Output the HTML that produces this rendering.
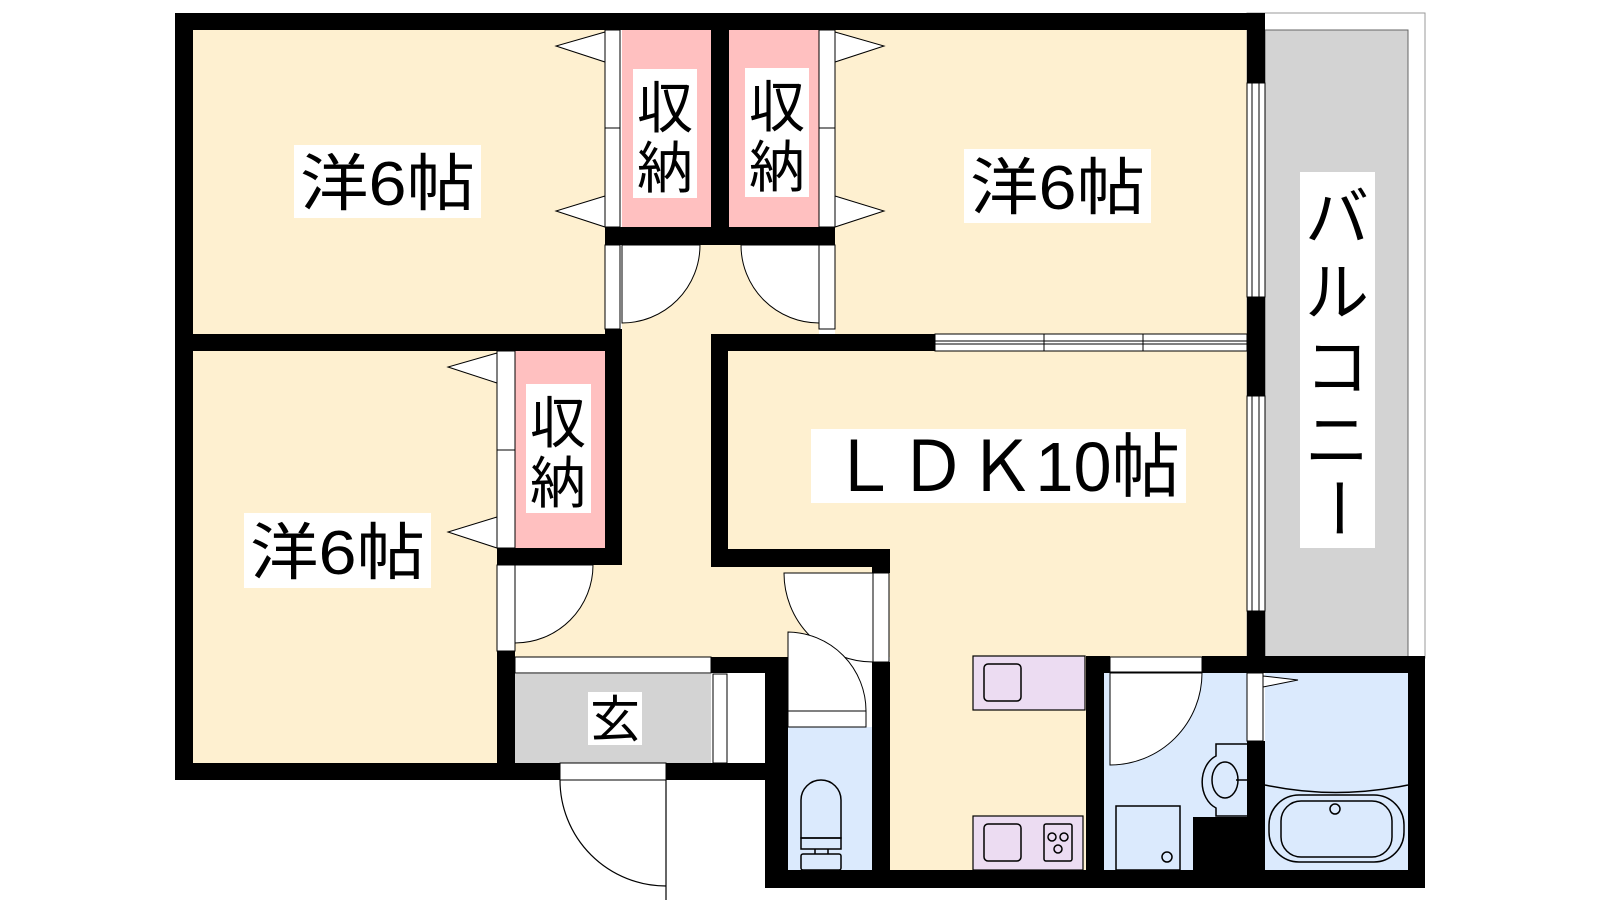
<!DOCTYPE html>
<html><head><meta charset="utf-8"><style>
html,body{margin:0;padding:0;background:#fff;}
svg{display:block;}
text{font-family:"Liberation Sans","Noto Sans CJK JP",sans-serif;fill:#000;}
</style></head><body>
<svg width="1600" height="900" viewBox="0 0 1600 900" xmlns="http://www.w3.org/2000/svg">
<!-- floors -->
<g fill="#fef0d0">
<rect x="193" y="30" width="412" height="304"/>
<rect x="193" y="351" width="304" height="412"/>
<rect x="835" y="30" width="412" height="304"/>
<rect x="622" y="245" width="197" height="90"/>
<rect x="622" y="330" width="89" height="240"/>
<rect x="515" y="565" width="358" height="92"/>
<rect x="728" y="351" width="519" height="306"/>
<rect x="890" y="640" width="196" height="230"/>
</g>
<!-- balcony -->
<rect x="1247" y="13" width="178" height="645" fill="#fff" stroke="#999" stroke-width="1"/>
<rect x="1265" y="30" width="143" height="627" fill="#d3d3d3" stroke="#666" stroke-width="1"/>
<!-- closets -->
<g fill="#ffc0c0">
<rect x="622" y="30" width="89" height="197"/>
<rect x="729" y="30" width="90" height="197"/>
<rect x="515" y="351" width="90" height="197"/>
</g>
<!-- genkan -->
<rect x="515" y="674" width="196" height="89" fill="#d3d3d3"/>
<rect x="515" y="657" width="196" height="16" fill="#fff" stroke="#000" stroke-width="1"/>
<rect x="713" y="674" width="14" height="89" fill="#fff" stroke="#000" stroke-width="1"/>
<!-- blue rooms -->
<g fill="#dbeafd">
<rect x="788" y="727" width="84" height="146"/>
<rect x="1104" y="673" width="143" height="197"/>
<rect x="1265" y="673" width="143" height="197"/>
</g>
<!-- walls -->
<g fill="#000">
<rect x="175" y="13" width="1090" height="17"/>
<rect x="175" y="13" width="18" height="767"/>
<rect x="175" y="763" width="385" height="17"/>
<rect x="666" y="763" width="117" height="17"/>
<rect x="175" y="334" width="447" height="17"/>
<rect x="605" y="227" width="230" height="18"/>
<rect x="711" y="30" width="18" height="197"/>
<rect x="605" y="329" width="17" height="236"/>
<rect x="497" y="548" width="125" height="17"/>
<rect x="497" y="651" width="18" height="129"/>
<rect x="711" y="334" width="224" height="17"/>
<rect x="711" y="334" width="17" height="233"/>
<rect x="711" y="549" width="179" height="18"/>
<rect x="872" y="549" width="18" height="24"/>
<rect x="711" y="657" width="72" height="16"/>
<rect x="765" y="657" width="23" height="231"/>
<rect x="872" y="662" width="18" height="226"/>
<rect x="765" y="870" width="660" height="18"/>
<rect x="1086" y="656" width="18" height="232"/>
<rect x="1104" y="656" width="6" height="17"/>
<rect x="1202" y="656" width="223" height="17"/>
<rect x="1247" y="13" width="18" height="70"/>
<rect x="1247" y="297" width="18" height="99"/>
<rect x="1247" y="611" width="18" height="62"/>
<rect x="1247" y="741" width="18" height="147"/>
<rect x="1408" y="656" width="17" height="232"/>
<rect x="1193" y="817" width="54" height="55"/>
</g>
<!-- door strips -->
<g fill="#fff" stroke="#000" stroke-width="1">
<rect x="605" y="30" width="15" height="98"/><rect x="605" y="128" width="15" height="99"/>
<rect x="819" y="30" width="16" height="98"/><rect x="819" y="128" width="16" height="99"/>
<rect x="497" y="351" width="18" height="99"/><rect x="497" y="450" width="18" height="98"/>
<rect x="605" y="245" width="15" height="84"/>
<rect x="819" y="245" width="16" height="84"/>
<rect x="497" y="565" width="18" height="86"/>
<rect x="873" y="573" width="16" height="89"/>
<rect x="788" y="711" width="78" height="16"/>
<rect x="560" y="763" width="106" height="17"/>
<rect x="1110" y="657" width="92" height="15"/>
<rect x="1247" y="673" width="16" height="68"/>
<!-- triangles -->
<polygon points="605,32 556,46 605,62"/><polygon points="605,196 556,211 605,227"/>
<polygon points="835,32 884,46 835,62"/><polygon points="835,196 884,211 835,227"/>
<polygon points="497,353 448,367 497,383"/><polygon points="497,517 448,532 497,548"/>
<polygon points="1263,676 1298,680 1263,687"/>
<!-- doors -->
<path d="M622,245 L700,245 A78,78 0 0 1 622,323 Z"/>
<path d="M819,245 L741,245 A78,78 0 0 0 819,323 Z"/>
<path d="M515,565 L593,565 A78,78 0 0 1 515,643 Z"/>
<path d="M873,573 L784,573 A89,89 0 0 0 873,662 Z"/>
<path d="M788,711 L788,632 A79,79 0 0 1 866,711 Z"/>
<path d="M1110,673 L1202,673 A92,92 0 0 1 1110,765 Z"/>
</g>
<path d="M560,780 A106,106 0 0 0 666,886 M666,780 L666,900" fill="none" stroke="#000" stroke-width="1.2"/>
<!-- windows -->
<g fill="#fff" stroke="#000" stroke-width="1">
<rect x="935" y="334" width="312" height="17"/>
<line x1="935" y1="341" x2="1247" y2="341"/><line x1="935" y1="344" x2="1247" y2="344"/>
<line x1="1044" y1="334" x2="1044" y2="351"/><line x1="1143" y1="334" x2="1143" y2="351"/>
<rect x="1247" y="83" width="18" height="214"/><rect x="1247" y="396" width="18" height="215"/>
<line x1="1252" y1="83" x2="1252" y2="297"/><line x1="1259" y1="83" x2="1259" y2="297"/>
<line x1="1252" y1="396" x2="1252" y2="611"/><line x1="1259" y1="396" x2="1259" y2="611"/>
</g>
<!-- kitchen -->
<g stroke="#000" stroke-width="1.2" fill="#ecdcf2">
<rect x="973" y="656" width="112" height="54"/>
<rect x="973" y="816" width="110" height="54"/>
</g>
<g stroke="#000" stroke-width="1.5" fill="none">
<rect x="984" y="664" width="37" height="37" rx="4"/>
<rect x="984" y="824" width="37" height="37" rx="4"/>
<rect x="1044" y="824" width="28" height="37" rx="2"/>
<circle cx="1052" cy="837" r="4"/><circle cx="1064" cy="837" r="4"/><circle cx="1058" cy="849" r="4"/>
<!-- washroom -->
<rect x="1116" y="806" width="64" height="64"/>
<circle cx="1167" cy="857" r="5"/>
<path d="M1247,744 L1216,744 L1216,756 A22,28 0 0 0 1216,808 L1216,816 L1247,816"/>
<ellipse cx="1225" cy="780" rx="13" ry="18"/>
<line x1="1236" y1="780" x2="1247" y2="780"/>
<!-- bath -->
<path d="M1265,785 Q1335,800 1408,785"/>
<rect x="1269" y="795" width="135" height="67" rx="30"/>
<rect x="1281" y="801" width="111" height="56" rx="20"/>
<circle cx="1335" cy="809" r="5"/>
<!-- toilet -->
<path d="M801,838 L801,800 A20,20 0 0 1 841,800 L841,838 Z"/>
<rect x="801" y="838" width="40" height="11"/>
<rect x="801" y="854" width="40" height="16" rx="2"/>
<line x1="815" y1="849" x2="815" y2="854"/><line x1="828" y1="849" x2="828" y2="854"/>
</g>
<!-- labels -->
<g fill="#fff">
<rect x="294" y="145" width="187" height="73"/>
<rect x="244" y="513" width="187" height="75"/>
<rect x="964" y="149" width="187" height="74"/>
<rect x="811" y="429" width="375" height="74"/>
<rect x="633" y="69" width="64" height="129"/>
<rect x="745" y="68" width="64" height="129"/>
<rect x="526" y="384" width="65" height="129"/>
<rect x="1300" y="172" width="75" height="376"/>
<rect x="588" y="692" width="54" height="53"/>
</g>
<g font-size="62">
<text x="300" y="205" textLength="175" lengthAdjust="spacingAndGlyphs">洋6帖</text>
<text x="250" y="574" textLength="175" lengthAdjust="spacingAndGlyphs">洋6帖</text>
<text x="970" y="209" textLength="175" lengthAdjust="spacingAndGlyphs">洋6帖</text>
<text x="830" y="491" font-size="70" textLength="350" lengthAdjust="spacingAndGlyphs">ＬＤＫ10帖</text>
</g>
<g font-size="56" text-anchor="middle">
<text x="665" y="128">収</text><text x="665" y="188">納</text>
<text x="777" y="127">収</text><text x="777" y="187">納</text>
<text x="558" y="443">収</text><text x="558" y="503">納</text>
<text x="615" y="737" font-size="50">玄</text>
</g>
<g font-size="64" text-anchor="middle">
<text x="1337" y="240">バ</text>
<text x="1337" y="315">ル</text>
<text x="1337" y="390">コ</text>
<text x="1337" y="463">ニ</text>
<text x="1337" y="530" transform="rotate(90 1337 508)">ー</text>
</g>
</svg>
</body></html>
